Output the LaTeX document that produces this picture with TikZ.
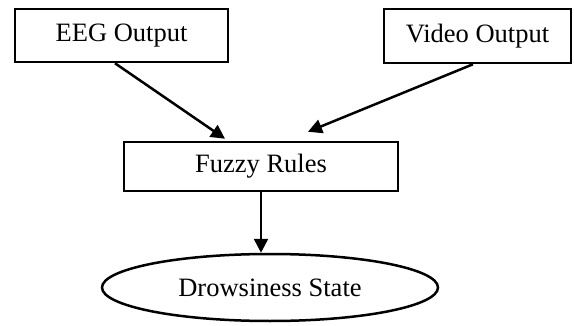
\documentclass[tikz,border=0pt]{standalone}
\usepackage{fontspec}
\setmainfont{Liberation Serif}
\usetikzlibrary{shapes.geometric,arrows.meta}
\begin{document}
\begin{tikzpicture}[x=1pt,y=1pt,line width=2.5pt,
	box/.style={draw,rectangle,inner sep=0pt,font=\fontsize{26.5}{30}\selectfont},
	stateshape/.style={draw,ellipse,inner sep=0pt,minimum width=336pt,minimum height=67pt,font=\fontsize{26.5}{30}\selectfont},
	flow/.style={-{Triangle[length=14pt,width=14pt]}}]
	\useasboundingbox (0,0) rectangle (574,325);
	\node[box,minimum width=213pt,minimum height=53pt] (eeg) at (121.5,289.5) {EEG Output};
	\node[box,minimum width=187pt,minimum height=54pt] (video) at (477.5,289) {Video Output};
	\node[box,minimum width=274pt,minimum height=49pt] (fuzzy) at (261,158.5) {Fuzzy Rules};
	\node[stateshape] (state) at (270,37.5) {Drowsiness State};
	\draw[flow] ([xshift=-6.5pt]eeg.south) -- ([xshift=-36pt,yshift=2pt]fuzzy.north);
	\draw[flow] ([xshift=-4.5pt]video.south) -- ([xshift=47pt,yshift=9pt]fuzzy.north);
	\draw[flow] (fuzzy.south) -- (fuzzy.south |- state.north);
\end{tikzpicture}
\end{document}
